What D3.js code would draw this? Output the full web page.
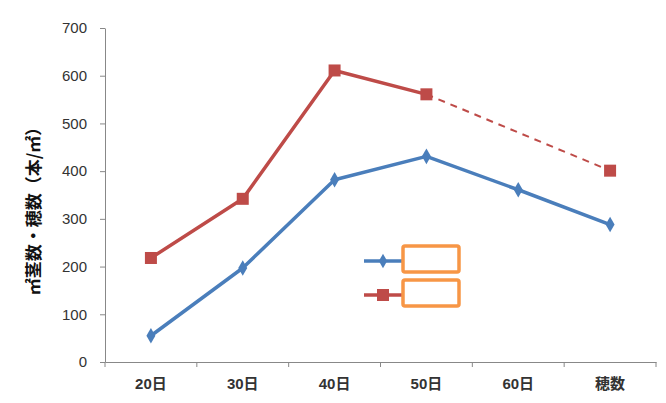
<!DOCTYPE html>
<html>
<head>
<meta charset="utf-8">
<script src="https://cdn.jsdelivr.net/npm/d3@7"></script>
<style>
  body { margin: 0; background: #fff; }
  .axis path, .axis line { stroke: #888; }
  .axis text { fill: #333; font-family: "Liberation Sans", Arial, "Noto Sans CJK JP", sans-serif; font-size: 15px; }
</style>
</head>
<body>
<div id="chart"></div>
<script>
var categories = ["20日", "30日", "40日", "50日", "60日", "穂数"];
var blueValues = [55, 197, 382, 431, 361, 288];
var redValues = [218, 342, 611, 561, null, 401];
var yTicks = [0, 100, 200, 300, 400, 500, 600, 700];

var w = 666;
var h = 403;

var svg = d3.select("#chart")
  .append("svg")
  .attr("width", w)
  .attr("height", h);

var xScale = d3.scaleBand()
  .domain(categories)
  .range([105, 656]);

var yScale = d3.scaleLinear()
  .domain([0, 700])
  .range([362, 28]);

function cx(d, i) {
  return xScale(categories[i]) + xScale.bandwidth() / 2;
}

// y axis
var yAxis = d3.axisLeft(yScale).tickValues(yTicks).tickSize(5).tickPadding(13).tickSizeOuter(0);
svg.append("g")
  .attr("class", "axis")
  .attr("transform", "translate(105,0)")
  .call(yAxis);

// x axis
var xAxis = d3.axisBottom(xScale).tickSize(0).tickPadding(16).tickSizeOuter(0);
var xg = svg.append("g")
  .attr("class", "axis")
  .attr("transform", "translate(0,362)")
  .call(xAxis);
xg.selectAll(".tick text").attr("font-weight", "bold").style("font-size", "15px");

// category boundary ticks
var bounds = categories.map(function(c) { return xScale(c); }).concat([xScale.range()[1]]);
xg.selectAll(".bound")
  .data(bounds)
  .enter()
  .append("line")
  .attr("x1", function(d) { return d; })
  .attr("x2", function(d) { return d; })
  .attr("y1", 0)
  .attr("y2", 5)
  .attr("stroke", "#888");

// y title
svg.append("text")
  .attr("transform", "translate(40,207)rotate(-90)")
  .attr("text-anchor", "middle")
  .attr("font-family", "'Noto Sans CJK JP', sans-serif")
  .attr("font-size", "17px")
  .attr("font-weight", "bold")
  .attr("fill", "#111")
  .text("㎡茎数・穂数（本/㎡）");

var blue = "#4A7EBB";
var red = "#BE4B48";

var line = d3.line()
  .defined(function(d) { return d != null; })
  .x(function(d, i) { return cx(d, i); })
  .y(function(d) { return yScale(d); });

svg.append("path")
  .datum(blueValues)
  .attr("d", line)
  .attr("fill", "none")
  .attr("stroke", blue)
  .attr("stroke-width", 3.5)
  .attr("stroke-linejoin", "round");

svg.append("path")
  .datum(redValues)
  .attr("d", line)
  .attr("fill", "none")
  .attr("stroke", red)
  .attr("stroke-width", 3.5)
  .attr("stroke-linejoin", "round");

// dashed link over the missing 60日 value
svg.append("line")
  .attr("x1", cx(null, 3))
  .attr("y1", yScale(redValues[3]))
  .attr("x2", cx(null, 5))
  .attr("y2", yScale(redValues[5]))
  .attr("stroke", red)
  .attr("stroke-width", 2)
  .attr("stroke-dasharray", "7,6");

// markers
svg.selectAll(".bm")
  .data(blueValues)
  .enter()
  .append("path")
  .attr("d", d3.symbol().type(d3.symbolDiamond).size(70))
  .attr("transform", function(d, i) { return "translate(" + cx(d, i) + "," + yScale(d) + ")"; })
  .attr("fill", blue);

svg.selectAll(".rm")
  .data(redValues.map(function(v, i) { return { v: v, i: i }; }).filter(function(d) { return d.v != null; }))
  .enter()
  .append("rect")
  .attr("x", function(d) { return cx(d.v, d.i) - 6; })
  .attr("y", function(d) { return yScale(d.v) - 6; })
  .attr("width", 12)
  .attr("height", 12)
  .attr("fill", red);

// legend
var legend = [
  { color: blue, y: 261, shape: "diamond" },
  { color: red, y: 295, shape: "square" }
];
legend.forEach(function(l) {
  svg.append("line")
    .attr("x1", 364).attr("x2", 402)
    .attr("y1", l.y).attr("y2", l.y)
    .attr("stroke", l.color).attr("stroke-width", 3.5);
  if (l.shape === "diamond") {
    svg.append("path")
      .attr("d", d3.symbol().type(d3.symbolDiamond).size(60))
      .attr("transform", "translate(383," + l.y + ")")
      .attr("fill", l.color);
  } else {
    svg.append("rect")
      .attr("x", 377).attr("y", l.y - 6)
      .attr("width", 12).attr("height", 12)
      .attr("fill", l.color);
  }
  svg.append("rect")
    .attr("x", 403).attr("y", l.y - 15)
    .attr("width", 56).attr("height", 26)
    .attr("rx", 2)
    .attr("fill", "#fff")
    .attr("stroke", "#F79646")
    .attr("stroke-width", 3.5);
});
</script>
</body>
</html>
